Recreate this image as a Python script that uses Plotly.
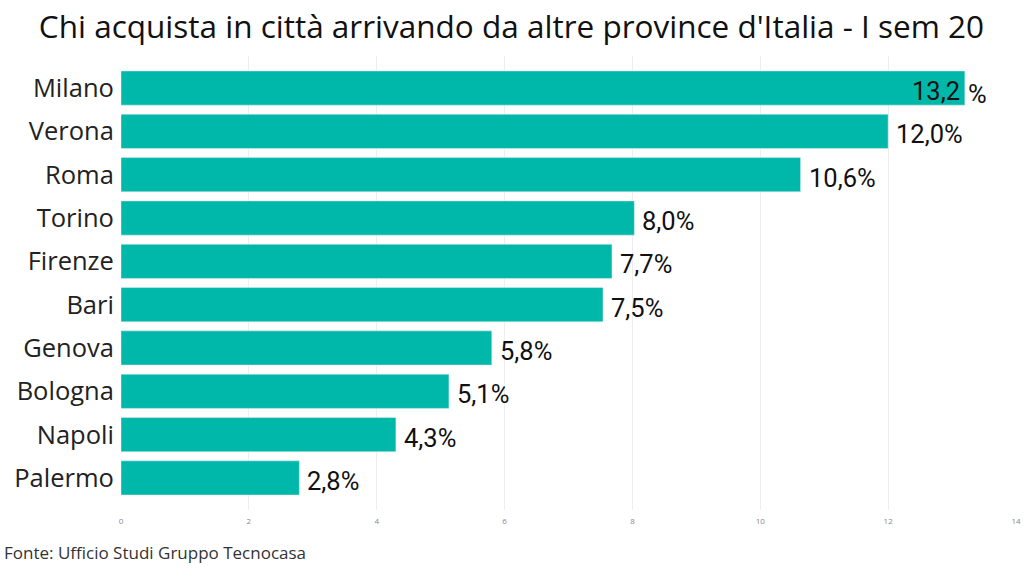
import plotly.graph_objects as go

cities = ["Milano","Verona","Roma","Torino","Firenze","Bari","Genova","Bologna","Napoli","Palermo"]
values = [13.2,12.0,10.63,8.03,7.68,7.54,5.8,5.13,4.3,2.79]
labels = ["13,2","12,0%","10,6%","8,0%","7,7%","7,5%","5,8%","5,1%","4,3%","2,8%"]
title = "Chi acquista in città arrivando da altre province d'Italia - I sem 20"
source = "Fonte: Ufficio Studi Gruppo Tecnocasa"
FONT = "Open Sans"
LABEL_FONT = dict(size=25.5, color="#111", family="Roboto")

fig = go.Figure(go.Bar(y=cities, x=values, orientation="h", marker_color="#00B8A9", width=0.79))

ann = []
for i, (c, v, t) in enumerate(zip(cities, values, labels)):
    if i == 0:
        ann.append(dict(x=v, y=c, text=t, xanchor="right", xshift=-3, yshift=-3, showarrow=False, font=LABEL_FONT))
        ann.append(dict(x=v, y=c, text="%", xanchor="left", xshift=1, yshift=-6, showarrow=False, font=LABEL_FONT))
    else:
        ann.append(dict(x=v, y=c, text=t, xanchor="left", xshift=6, yshift=-3, showarrow=False, font=LABEL_FONT))
ann.append(dict(text=source, xref="paper", yref="paper", x=-0.1325, y=-0.0947, xanchor="left", yanchor="middle",
                showarrow=False, font=dict(size=17, color="#333", family=FONT)))

fig.update_layout(
    width=1024, height=584, margin=dict(l=121, r=8, t=56, b=74, autoexpand=False),
    paper_bgcolor="white", plot_bgcolor="white", showlegend=False,
    title=dict(text=title, x=0.4995, xanchor="center", y=0.9535, yanchor="middle", yref="container",
               font=dict(size=31.5, color="#111", family=FONT)),
    xaxis=dict(range=[0,14], tickvals=[0,2,4,6,8,10,12,14], showgrid=True, gridcolor="#EEEEEE",
               zeroline=False, ticks="outside", ticklen=3, tickcolor="white", automargin=False,
               tickfont=dict(size=8, color="#888", family=FONT)),
    yaxis=dict(range=[9.74,-0.74], tickfont=dict(size=25.5, color="#222", family=FONT), automargin=False,
               ticks="outside", ticklen=1, tickcolor="white", showline=False, showgrid=False),
    annotations=ann,
)
fig.write_html("out.html", post_script="document.body.style.margin='0';", config={"displayModeBar": False})
